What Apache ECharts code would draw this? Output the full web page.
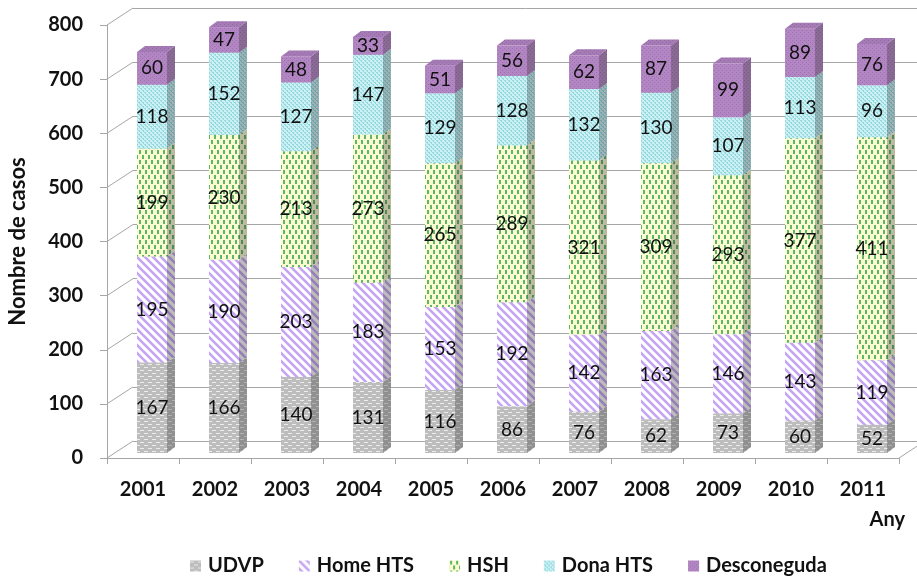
<!DOCTYPE html>
<html>
<head>
<meta charset="utf-8">
<title>Nombre de casos per any</title>
<script src="https://cdn.jsdelivr.net/npm/echarts@6/dist/echarts.min.js"></script>
<style>
  html, body { margin: 0; padding: 0; background: #ffffff; }
  #chart { width: 917px; height: 576px; }
</style>
</head>
<body>
<div id="chart"></div>
<script>
// ---- data ----
const years = ['2001', '2002', '2003', '2004', '2005', '2006', '2007', '2008', '2009', '2010', '2011'];
const udvp        = [167, 166, 140, 131, 116,  86,  76,  62,  73,  60,  52];
const homeHts     = [195, 190, 203, 183, 153, 192, 142, 163, 146, 143, 119];
const hsh         = [199, 230, 213, 273, 265, 289, 321, 309, 293, 377, 411];
const donaHts     = [118, 152, 127, 147, 129, 128, 132, 130, 107, 113,  96];
const desconeguda = [ 60,  47,  48,  33,  51,  56,  62,  87,  99,  89,  76];
const yTicks = [0, 100, 200, 300, 400, 500, 600, 700, 800];
const seriesNames = ['UDVP', 'Home HTS', 'HSH', 'Dona HTS', 'Desconeguda'];
const seriesValues = [udvp, homeHts, hsh, donaHts, desconeguda];

// ---- fill patterns ----
function tile(w, h, draw) {
  const c = document.createElement('canvas');
  c.width = w; c.height = h;
  draw(c.getContext('2d'), w, h);
  return { image: c, repeat: 'repeat' };
}
const patterns = [
  // UDVP: grey with light dashes
  tile(8, 6, (g, w, h) => {
    g.fillStyle = '#bdbdbd'; g.fillRect(0, 0, w, h);
    g.fillStyle = '#ececec'; g.fillRect(0, 1, 4, 1); g.fillRect(4, 4, 4, 1);
  }),
  // Home HTS: lavender diagonal stripes on white
  tile(8, 8, (g, w, h) => {
    g.fillStyle = '#ffffff'; g.fillRect(0, 0, w, h);
    g.strokeStyle = '#c4a4f3'; g.lineWidth = 2.6;
    g.beginPath();
    for (const k of [-8, 0, 8]) { g.moveTo(k - 1, -1); g.lineTo(k + 9, 9); }
    g.stroke();
  }),
  // HSH: green vertical dashes on pale yellow
  tile(6, 10, (g, w, h) => {
    g.fillStyle = '#fbfbd0'; g.fillRect(0, 0, w, h);
    g.fillStyle = '#5fb46e'; g.fillRect(1, 0, 2, 4); g.fillRect(4, 5, 2, 4);
  }),
  // Dona HTS: fine teal checks on light cyan
  tile(4, 4, (g, w, h) => {
    g.fillStyle = '#cbf1f5'; g.fillRect(0, 0, w, h);
    g.fillStyle = '#94d8de'; g.fillRect(0, 0, 2, 1); g.fillRect(2, 2, 2, 1);
    g.fillRect(1, 1, 1, 1); g.fillRect(3, 3, 1, 1);
  }),
  // Desconeguda: purple with dotted texture
  tile(4, 4, (g, w, h) => {
    g.fillStyle = '#b285c3'; g.fillRect(0, 0, w, h);
    g.fillStyle = '#a070b2'; g.fillRect(0, 0, 1, 1); g.fillRect(2, 2, 1, 1);
  })
];

// ---- stacked bases ----
const bases = seriesValues.map((vals, s) =>
  vals.map((v, i) => seriesValues.slice(0, s).reduce((acc, arr) => acc + arr[i], 0)));

// ---- 3D geometry (pixels) ----
const BAR_W = 30;
const DEPTH_X = 8, DEPTH_Y = 6;          // bar depth
const WALL_DX = 26, WALL_DY = 17;        // wall depth (front -> back)
const AXIS_GREY = '#a6a6a6';
const TEXT_DARK = '#111111';

function boxRenderer(s) {
  return function (params, api) {
    const i = api.value(0), base = api.value(1), val = api.value(2);
    const p0 = api.coord([i, base]);
    const p1 = api.coord([i, base + val]);
    const x0 = p0[0] - BAR_W / 2, x1 = p0[0] + BAR_W / 2;
    const yb = p0[1], yt = p1[1];
    const side = [[x1, yb], [x1, yt], [x1 + DEPTH_X, yt - DEPTH_Y], [x1 + DEPTH_X, yb - DEPTH_Y]];
    const top = [[x0, yt], [x1, yt], [x1 + DEPTH_X, yt - DEPTH_Y], [x0 + DEPTH_X, yt - DEPTH_Y]];
    return {
      type: 'group',
      children: [
        { type: 'polygon', shape: { points: side }, style: { fill: patterns[s] } },
        { type: 'polygon', shape: { points: side }, style: { fill: 'rgba(50,50,50,0.32)' } },
        { type: 'polygon', shape: { points: top }, style: { fill: patterns[s] } },
        { type: 'polygon', shape: { points: top }, style: { fill: 'rgba(60,40,70,0.10)' } },
        { type: 'rect', shape: { x: x0, y: yt, width: BAR_W, height: yb - yt }, style: { fill: patterns[s] } },
        {
          type: 'text', x: p0[0], y: (yb + yt) / 2,
          style: {
            text: String(val), align: 'center', verticalAlign: 'middle',
            fontFamily: 'Lato', fontSize: 19, fill: TEXT_DARK
          }
        }
      ]
    };
  };
}

// walls: slanted lines of the left wall and right edge of the floor
function wallRenderer(params, api) {
  const v = api.value(0);
  const cs = params.coordSys;
  const y = api.coord([0, v])[1];
  const children = [{
    type: 'line',
    shape: { x1: cs.x - WALL_DX, y1: y + WALL_DY, x2: cs.x, y2: y },
    style: { stroke: AXIS_GREY, lineWidth: 1 }
  }];
  if (v === 0) {
    children.push({
      type: 'line',
      shape: { x1: cs.x + cs.width - WALL_DX, y1: y + WALL_DY, x2: cs.x + cs.width, y2: y },
      style: { stroke: AXIS_GREY, lineWidth: 1 }
    });
  }
  return { type: 'group', children };
}

const boldText = { fontFamily: 'Lato', fontWeight: 'bold', fontSize: 20, color: TEXT_DARK };

const chart = echarts.init(document.getElementById('chart'), null, { renderer: 'canvas' });

const series = [{
  type: 'custom',
  name: '__walls',
  xAxisIndex: 1, yAxisIndex: 1,
  renderItem: wallRenderer,
  data: yTicks.map(v => [v]),
  encode: { y: 0 },
  silent: true,
  z: 1
}];
seriesNames.forEach((name, s) => {
  series.push({
    type: 'custom',
    name,
    xAxisIndex: 2, yAxisIndex: 2,
    renderItem: boxRenderer(s),
    itemStyle: { color: patterns[s] },
    data: years.map((y, i) => [i, bases[s][i], seriesValues[s][i]]),
    encode: { x: 0, y: 2 },
    z: 3
  });
});

chart.setOption({
  animation: false,
  backgroundColor: '#ffffff',
  grid: [
    // front plane: visible axes
    { left: 107, right: 18, top: 25, bottom: 118, containLabel: false, outerBoundsMode: 'none' },
    // back wall: gridlines
    { left: 133, right: -8, top: 8, bottom: 135, containLabel: false, outerBoundsMode: 'none' },
    // bars
    { left: 116, right: 9, top: 19, bottom: 123, containLabel: false, outerBoundsMode: 'none' }
  ],
  xAxis: [
    {
      gridIndex: 0, type: 'category', data: years,
      axisLine: { show: true, lineStyle: { color: AXIS_GREY, width: 1 } },
      axisTick: { show: true, length: 6, interval: 0, lineStyle: { color: AXIS_GREY } },
      axisLabel: Object.assign({ margin: 22, interval: 0 }, boldText)
    },
    { gridIndex: 1, type: 'category', data: years, show: false },
    { gridIndex: 2, type: 'category', data: years, show: false }
  ],
  yAxis: [
    {
      gridIndex: 0, type: 'value', min: 0, max: 800, interval: 100,
      axisLine: { show: true, lineStyle: { color: AXIS_GREY, width: 1 } },
      axisTick: { show: true, length: 7, lineStyle: { color: AXIS_GREY } },
      splitLine: { show: false },
      axisLabel: Object.assign({ margin: 24 }, boldText),
      name: 'Nombre de casos', nameLocation: 'middle', nameRotate: 90, nameGap: 78,
      nameTextStyle: { fontFamily: 'Lato', fontWeight: 'bold', fontSize: 22, color: TEXT_DARK }
    },
    {
      gridIndex: 1, type: 'value', min: 0, max: 800, interval: 100,
      axisLine: { show: false }, axisTick: { show: false }, axisLabel: { show: false },
      splitLine: { show: true, lineStyle: { color: AXIS_GREY, width: 1 } }
    },
    {
      gridIndex: 2, type: 'value', min: 0, max: 800, interval: 100, show: false,
      splitLine: { show: false }
    }
  ],
  legend: {
    left: 185, top: 551,
    itemWidth: 11, itemHeight: 11, itemGap: 35,
    icon: 'rect',
    data: seriesNames.map((n, s) => ({ name: n, itemStyle: { color: patterns[s] } })),
    textStyle: Object.assign({ padding: [0, 0, 0, 2] }, boldText)
  },
  graphic: [{
    type: 'text', right: 12, top: 510,
    style: { text: 'Any', fontFamily: 'Lato', fontWeight: 'bold', fontSize: 20, fill: TEXT_DARK }
  }],
  series
});
</script>
</body>
</html>
